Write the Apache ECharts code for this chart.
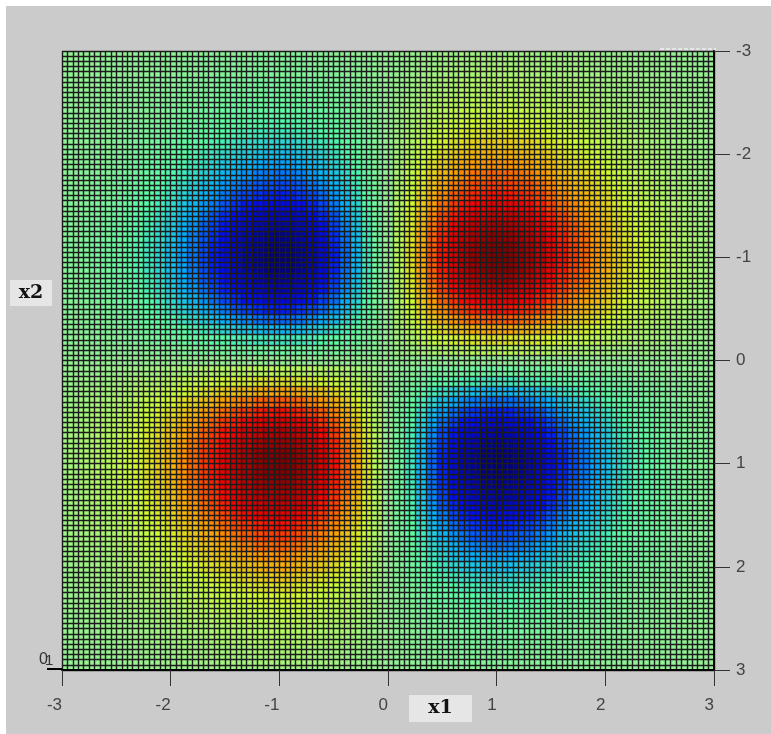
<!DOCTYPE html>
<html>
<head>
<meta charset="utf-8">
<style>
  html, body { margin: 0; padding: 0; background: #fff; }
  #chart { width: 771px; height: 734px; }
</style>
<script src="https://cdn.jsdelivr.net/npm/echarts@6/dist/echarts.min.js"></script>
</head>
<body>
<div id="chart"></div>
<script>
const tickValues = [-3, -2, -1, 0, 1, 2, 3];
const x1Cells = [-3,-2.9,-2.8,-2.7,-2.6,-2.5,-2.4,-2.3,-2.2,-2.1,-2,-1.9,-1.8,-1.7,-1.6,-1.5,-1.4,-1.3,-1.2,-1.1,-1,-0.9,-0.8,-0.7,-0.6,-0.5,-0.4,-0.3,-0.2,-0.1,0,0.1,0.2,0.3,0.4,0.5,0.6,0.7,0.8,0.9,1,1.1,1.2,1.3,1.4,1.5,1.6,1.7,1.8,1.9,2,2.1,2.2,2.3,2.4,2.5,2.6,2.7,2.8,2.9,3];
const x2Cells = x1Cells;
const cellStep = 0.1;
// colour level, -100 darkest blue, 100 darkest red. top row is x2 = -3
const zRows = [
[0,0,0,-1,-1,-1,-1,-1,-2,-2,-2,-3,-3,-3,-4,-4,-4,-5,-5,-5,-5,-5,-5,-5,-4,-4,-3,-2,-2,-1,0,1,2,2,3,4,4,5,5,5,5,5,5,5,4,4,4,3,3,3,2,2,2,1,1,1,1,1,0,0,0],
[0,0,-1,-1,-1,-1,-2,-2,-2,-3,-3,-4,-4,-5,-5,-6,-6,-6,-7,-7,-7,-7,-7,-6,-6,-5,-4,-3,-2,-1,0,1,2,3,4,5,6,6,7,7,7,7,7,6,6,6,5,5,4,4,3,3,2,2,2,1,1,1,1,0,0],
[0,-1,-1,-1,-1,-2,-2,-2,-3,-3,-4,-5,-5,-6,-7,-7,-8,-8,-9,-9,-9,-9,-9,-8,-7,-7,-5,-4,-3,-1,0,1,3,4,5,7,7,8,9,9,9,9,9,8,8,7,7,6,5,5,4,3,3,2,2,2,1,1,1,1,0],
[-1,-1,-1,-1,-2,-2,-3,-3,-4,-5,-5,-6,-7,-8,-9,-10,-10,-11,-12,-12,-12,-12,-11,-11,-10,-9,-7,-6,-4,-2,0,2,4,6,7,9,10,11,11,12,12,12,12,11,10,10,9,8,7,6,5,5,4,3,3,2,2,1,1,1,1],
[-1,-1,-1,-2,-2,-3,-3,-4,-4,-5,-6,-7,-8,-9,-10,-11,-12,-13,-13,-14,-14,-14,-13,-13,-11,-10,-9,-7,-4,-2,0,2,4,7,9,10,11,13,13,14,14,14,13,13,12,11,10,9,8,7,6,5,4,4,3,3,2,2,1,1,1],
[-1,-1,-2,-2,-3,-3,-4,-5,-6,-7,-8,-9,-11,-12,-13,-14,-16,-17,-17,-18,-18,-18,-17,-16,-15,-13,-11,-8,-6,-3,0,3,6,8,11,13,15,16,17,18,18,18,17,17,16,14,13,12,11,9,8,7,6,5,4,3,3,2,2,1,1],
[-1,-2,-2,-3,-3,-4,-5,-6,-7,-8,-10,-11,-13,-15,-16,-18,-19,-20,-21,-22,-22,-22,-21,-20,-18,-16,-13,-10,-7,-4,0,4,7,10,13,16,18,20,21,22,22,22,21,20,19,18,16,15,13,11,10,8,7,6,5,4,3,3,2,2,1],
[-1,-2,-2,-3,-4,-5,-6,-7,-9,-10,-12,-14,-16,-18,-20,-22,-23,-25,-26,-27,-27,-27,-26,-24,-22,-20,-16,-13,-9,-4,0,4,9,13,16,20,22,24,26,27,27,27,26,25,23,22,20,18,16,14,12,10,9,7,6,5,4,3,2,2,1],
[-2,-2,-3,-4,-4,-6,-7,-9,-10,-12,-14,-17,-19,-21,-23,-26,-28,-29,-31,-32,-32,-32,-30,-29,-26,-23,-20,-15,-10,-5,0,5,10,15,20,23,26,29,30,32,32,32,31,29,28,26,23,21,19,17,14,12,10,9,7,6,4,4,3,2,2],
[-2,-3,-3,-5,-5,-7,-8,-10,-12,-14,-17,-20,-22,-25,-28,-30,-33,-35,-36,-38,-38,-38,-36,-34,-31,-28,-23,-18,-12,-6,0,6,12,18,23,28,31,34,36,38,38,38,36,35,33,30,28,25,22,20,17,14,12,10,8,7,5,5,3,3,2],
[-2,-3,-4,-5,-6,-8,-10,-12,-14,-17,-20,-23,-27,-30,-33,-36,-39,-41,-43,-45,-45,-45,-43,-41,-37,-33,-27,-21,-14,-7,0,7,14,21,27,33,37,41,43,45,45,45,43,41,39,36,33,30,27,23,20,17,14,12,10,8,6,5,4,3,2],
[-3,-4,-5,-6,-7,-9,-11,-14,-17,-20,-23,-27,-31,-34,-38,-42,-45,-48,-50,-51,-52,-51,-49,-47,-43,-38,-32,-24,-17,-8,0,8,17,24,32,38,43,47,49,51,52,51,50,48,45,42,38,34,31,27,23,20,17,14,11,9,7,6,5,4,3],
[-3,-4,-5,-7,-8,-11,-13,-16,-19,-22,-27,-31,-35,-39,-43,-47,-51,-54,-57,-58,-59,-58,-56,-53,-48,-43,-36,-28,-19,-9,0,9,19,28,36,43,48,53,56,58,59,58,57,54,51,47,43,39,35,31,27,22,19,16,13,11,8,7,5,4,3],
[-3,-5,-6,-8,-9,-12,-15,-18,-21,-25,-30,-34,-39,-44,-48,-53,-57,-61,-63,-65,-66,-65,-63,-59,-54,-48,-40,-31,-21,-11,0,11,21,31,40,48,54,59,63,65,66,65,63,61,57,53,48,44,39,34,30,25,21,18,15,12,9,8,6,5,3],
[-4,-5,-7,-9,-10,-13,-16,-20,-23,-28,-33,-38,-43,-48,-53,-58,-64,-67,-70,-72,-73,-72,-69,-66,-60,-53,-45,-34,-23,-12,0,12,23,34,45,53,60,66,69,72,73,72,70,67,64,58,53,48,43,38,33,28,23,20,16,13,10,9,7,5,4],
[-4,-6,-7,-10,-11,-14,-18,-22,-26,-30,-36,-42,-47,-53,-58,-64,-70,-74,-77,-79,-80,-79,-76,-72,-66,-58,-49,-38,-26,-13,0,13,26,38,49,58,66,72,76,79,80,79,77,74,70,64,58,53,47,42,36,30,26,22,18,14,11,10,7,6,4],
[-4,-6,-8,-10,-12,-16,-19,-23,-28,-33,-39,-45,-51,-57,-64,-70,-76,-80,-84,-86,-87,-86,-83,-78,-71,-64,-53,-41,-28,-14,0,14,28,41,53,64,71,78,83,86,87,86,84,80,76,70,64,57,51,45,39,33,28,23,19,16,12,10,8,6,4],
[-5,-6,-8,-11,-13,-17,-20,-25,-29,-35,-41,-48,-54,-61,-67,-74,-80,-85,-88,-91,-92,-91,-87,-83,-75,-67,-56,-43,-29,-15,0,15,29,43,56,67,75,83,87,91,92,91,88,85,80,74,67,61,54,48,41,35,29,25,20,17,13,11,8,6,5],
[-5,-7,-9,-12,-13,-17,-21,-26,-31,-36,-43,-50,-57,-63,-70,-77,-84,-88,-92,-95,-96,-95,-91,-86,-79,-70,-59,-45,-31,-15,0,15,31,45,59,70,79,86,91,95,96,95,92,88,84,77,70,63,57,50,43,36,31,26,21,17,13,12,9,7,5],
[-5,-7,-9,-12,-14,-18,-22,-27,-32,-38,-45,-51,-58,-65,-72,-79,-86,-91,-95,-98,-99,-98,-94,-89,-81,-72,-60,-47,-32,-16,0,16,32,47,60,72,81,89,94,98,99,98,95,91,86,79,72,65,58,51,45,38,32,27,22,18,14,12,9,7,5],
[-5,-7,-9,-12,-14,-18,-22,-27,-32,-38,-45,-52,-59,-66,-73,-80,-87,-92,-96,-99,-100,-99,-95,-90,-82,-73,-61,-47,-32,-16,0,16,32,47,61,73,82,90,95,99,100,99,96,92,87,80,73,66,59,52,45,38,32,27,22,18,14,12,9,7,5],
[-5,-7,-9,-12,-14,-18,-22,-27,-32,-38,-45,-51,-58,-65,-72,-79,-86,-91,-95,-98,-99,-98,-94,-89,-81,-72,-60,-47,-32,-16,0,16,32,47,60,72,81,89,94,98,99,98,95,91,86,79,72,65,58,51,45,38,32,27,22,18,14,12,9,7,5],
[-5,-7,-9,-11,-13,-17,-21,-26,-30,-36,-43,-49,-56,-63,-69,-76,-83,-87,-91,-94,-95,-94,-90,-86,-78,-69,-58,-45,-30,-15,0,15,30,45,58,69,78,86,90,94,95,94,91,87,83,76,69,63,56,49,43,36,30,26,21,17,13,11,9,7,5],
[-5,-6,-8,-11,-13,-16,-20,-24,-29,-34,-41,-47,-53,-59,-66,-72,-78,-83,-86,-89,-90,-89,-86,-81,-74,-66,-55,-42,-29,-14,0,14,29,42,55,66,74,81,86,89,90,89,86,83,78,72,66,59,53,47,41,34,29,24,20,16,13,11,8,6,5],
[-4,-6,-7,-10,-11,-15,-18,-22,-26,-31,-37,-43,-48,-54,-60,-66,-71,-75,-79,-81,-82,-81,-78,-74,-67,-60,-50,-39,-26,-13,0,13,26,39,50,60,67,74,78,81,82,81,79,75,71,66,60,54,48,43,37,31,26,22,18,15,11,10,7,6,4],
[-4,-5,-7,-9,-10,-13,-16,-20,-23,-28,-33,-38,-43,-48,-53,-58,-64,-67,-70,-72,-73,-72,-69,-66,-60,-53,-45,-34,-23,-12,0,12,23,34,45,53,60,66,69,72,73,72,70,67,64,58,53,48,43,38,33,28,23,20,16,13,10,9,7,5,4],
[-3,-4,-5,-7,-9,-11,-13,-16,-20,-23,-27,-32,-36,-40,-45,-49,-53,-56,-59,-60,-61,-60,-58,-55,-50,-45,-37,-29,-20,-10,0,10,20,29,37,45,50,55,58,60,61,60,59,56,53,49,45,40,36,32,27,23,20,16,13,11,9,7,5,4,3],
[-2,-3,-4,-6,-7,-8,-10,-13,-15,-18,-21,-24,-28,-31,-34,-38,-41,-43,-45,-47,-47,-47,-45,-42,-39,-34,-29,-22,-15,-8,0,8,15,22,29,34,39,42,45,47,47,47,45,43,41,38,34,31,28,24,21,18,15,13,10,8,7,6,4,3,2],
[-2,-2,-3,-4,-4,-6,-7,-9,-10,-12,-14,-17,-19,-21,-23,-26,-28,-29,-31,-32,-32,-32,-30,-29,-26,-23,-20,-15,-10,-5,0,5,10,15,20,23,26,29,30,32,32,32,31,29,28,26,23,21,19,17,14,12,10,9,7,6,4,4,3,2,2],
[-1,-1,-1,-2,-2,-3,-4,-4,-5,-6,-7,-8,-9,-11,-12,-13,-14,-15,-15,-16,-16,-16,-15,-14,-13,-12,-10,-8,-5,-3,0,3,5,8,10,12,13,14,15,16,16,16,15,15,14,13,12,11,9,8,7,6,5,4,4,3,2,2,1,1,1],
[0,0,0,0,0,0,0,0,0,0,0,0,0,0,0,0,0,0,0,0,0,0,0,0,0,0,0,0,0,0,0,0,0,0,0,0,0,0,0,0,0,0,0,0,0,0,0,0,0,0,0,0,0,0,0,0,0,0,0,0,0],
[1,1,1,2,2,3,4,4,5,6,7,8,9,11,12,13,14,15,15,16,16,16,15,14,13,12,10,8,5,3,0,-3,-5,-8,-10,-12,-13,-14,-15,-16,-16,-16,-15,-15,-14,-13,-12,-11,-9,-8,-7,-6,-5,-4,-4,-3,-2,-2,-1,-1,-1],
[2,2,3,4,4,6,7,9,10,12,14,17,19,21,23,26,28,29,31,32,32,32,30,29,26,23,20,15,10,5,0,-5,-10,-15,-20,-23,-26,-29,-30,-32,-32,-32,-31,-29,-28,-26,-23,-21,-19,-17,-14,-12,-10,-9,-7,-6,-4,-4,-3,-2,-2],
[2,3,4,6,7,8,10,13,15,18,21,24,28,31,34,38,41,43,45,47,47,47,45,42,39,34,29,22,15,8,0,-8,-15,-22,-29,-34,-39,-42,-45,-47,-47,-47,-45,-43,-41,-38,-34,-31,-28,-24,-21,-18,-15,-13,-10,-8,-7,-6,-4,-3,-2],
[3,4,5,7,9,11,13,16,20,23,27,32,36,40,45,49,53,56,59,60,61,60,58,55,50,45,37,29,20,10,0,-10,-20,-29,-37,-45,-50,-55,-58,-60,-61,-60,-59,-56,-53,-49,-45,-40,-36,-32,-27,-23,-20,-16,-13,-11,-9,-7,-5,-4,-3],
[4,5,7,9,10,13,16,20,23,28,33,38,43,48,53,58,64,67,70,72,73,72,69,66,60,53,45,34,23,12,0,-12,-23,-34,-45,-53,-60,-66,-69,-72,-73,-72,-70,-67,-64,-58,-53,-48,-43,-38,-33,-28,-23,-20,-16,-13,-10,-9,-7,-5,-4],
[4,6,7,10,11,15,18,22,26,31,37,43,48,54,60,66,71,75,79,81,82,81,78,74,67,60,50,39,26,13,0,-13,-26,-39,-50,-60,-67,-74,-78,-81,-82,-81,-79,-75,-71,-66,-60,-54,-48,-43,-37,-31,-26,-22,-18,-15,-11,-10,-7,-6,-4],
[5,6,8,11,13,16,20,24,29,34,41,47,53,59,66,72,78,83,86,89,90,89,86,81,74,66,55,42,29,14,0,-14,-29,-42,-55,-66,-74,-81,-86,-89,-90,-89,-86,-83,-78,-72,-66,-59,-53,-47,-41,-34,-29,-24,-20,-16,-13,-11,-8,-6,-5],
[5,7,9,11,13,17,21,26,30,36,43,49,56,63,69,76,83,87,91,94,95,94,90,86,78,69,58,45,30,15,0,-15,-30,-45,-58,-69,-78,-86,-90,-94,-95,-94,-91,-87,-83,-76,-69,-63,-56,-49,-43,-36,-30,-26,-21,-17,-13,-11,-9,-7,-5],
[5,7,9,12,14,18,22,27,32,38,45,51,58,65,72,79,86,91,95,98,99,98,94,89,81,72,60,47,32,16,0,-16,-32,-47,-60,-72,-81,-89,-94,-98,-99,-98,-95,-91,-86,-79,-72,-65,-58,-51,-45,-38,-32,-27,-22,-18,-14,-12,-9,-7,-5],
[5,7,9,12,14,18,22,27,32,38,45,52,59,66,73,80,87,92,96,99,100,99,95,90,82,73,61,47,32,16,0,-16,-32,-47,-61,-73,-82,-90,-95,-99,-100,-99,-96,-92,-87,-80,-73,-66,-59,-52,-45,-38,-32,-27,-22,-18,-14,-12,-9,-7,-5],
[5,7,9,12,14,18,22,27,32,38,45,51,58,65,72,79,86,91,95,98,99,98,94,89,81,72,60,47,32,16,0,-16,-32,-47,-60,-72,-81,-89,-94,-98,-99,-98,-95,-91,-86,-79,-72,-65,-58,-51,-45,-38,-32,-27,-22,-18,-14,-12,-9,-7,-5],
[5,7,9,12,13,17,21,26,31,36,43,50,57,63,70,77,84,88,92,95,96,95,91,86,79,70,59,45,31,15,0,-15,-31,-45,-59,-70,-79,-86,-91,-95,-96,-95,-92,-88,-84,-77,-70,-63,-57,-50,-43,-36,-31,-26,-21,-17,-13,-12,-9,-7,-5],
[5,6,8,11,13,17,20,25,29,35,41,48,54,61,67,74,80,85,88,91,92,91,87,83,75,67,56,43,29,15,0,-15,-29,-43,-56,-67,-75,-83,-87,-91,-92,-91,-88,-85,-80,-74,-67,-61,-54,-48,-41,-35,-29,-25,-20,-17,-13,-11,-8,-6,-5],
[4,6,8,10,12,16,19,23,28,33,39,45,51,57,64,70,76,80,84,86,87,86,83,78,71,64,53,41,28,14,0,-14,-28,-41,-53,-64,-71,-78,-83,-86,-87,-86,-84,-80,-76,-70,-64,-57,-51,-45,-39,-33,-28,-23,-19,-16,-12,-10,-8,-6,-4],
[4,6,7,10,11,14,18,22,26,30,36,42,47,53,58,64,70,74,77,79,80,79,76,72,66,58,49,38,26,13,0,-13,-26,-38,-49,-58,-66,-72,-76,-79,-80,-79,-77,-74,-70,-64,-58,-53,-47,-42,-36,-30,-26,-22,-18,-14,-11,-10,-7,-6,-4],
[4,5,7,9,10,13,16,20,23,28,33,38,43,48,53,58,64,67,70,72,73,72,69,66,60,53,45,34,23,12,0,-12,-23,-34,-45,-53,-60,-66,-69,-72,-73,-72,-70,-67,-64,-58,-53,-48,-43,-38,-33,-28,-23,-20,-16,-13,-10,-9,-7,-5,-4],
[3,5,6,8,9,12,15,18,21,25,30,34,39,44,48,53,57,61,63,65,66,65,63,59,54,48,40,31,21,11,0,-11,-21,-31,-40,-48,-54,-59,-63,-65,-66,-65,-63,-61,-57,-53,-48,-44,-39,-34,-30,-25,-21,-18,-15,-12,-9,-8,-6,-5,-3],
[3,4,5,7,8,11,13,16,19,22,27,31,35,39,43,47,51,54,57,58,59,58,56,53,48,43,36,28,19,9,0,-9,-19,-28,-36,-43,-48,-53,-56,-58,-59,-58,-57,-54,-51,-47,-43,-39,-35,-31,-27,-22,-19,-16,-13,-11,-8,-7,-5,-4,-3],
[3,4,5,6,7,9,11,14,17,20,23,27,31,34,38,42,45,48,50,51,52,51,49,47,43,38,32,24,17,8,0,-8,-17,-24,-32,-38,-43,-47,-49,-51,-52,-51,-50,-48,-45,-42,-38,-34,-31,-27,-23,-20,-17,-14,-11,-9,-7,-6,-5,-4,-3],
[2,3,4,5,6,8,10,12,14,17,20,23,27,30,33,36,39,41,43,45,45,45,43,41,37,33,27,21,14,7,0,-7,-14,-21,-27,-33,-37,-41,-43,-45,-45,-45,-43,-41,-39,-36,-33,-30,-27,-23,-20,-17,-14,-12,-10,-8,-6,-5,-4,-3,-2],
[2,3,3,5,5,7,8,10,12,14,17,20,22,25,28,30,33,35,36,38,38,38,36,34,31,28,23,18,12,6,0,-6,-12,-18,-23,-28,-31,-34,-36,-38,-38,-38,-36,-35,-33,-30,-28,-25,-22,-20,-17,-14,-12,-10,-8,-7,-5,-5,-3,-3,-2],
[2,2,3,4,4,6,7,9,10,12,14,17,19,21,23,26,28,29,31,32,32,32,30,29,26,23,20,15,10,5,0,-5,-10,-15,-20,-23,-26,-29,-30,-32,-32,-32,-31,-29,-28,-26,-23,-21,-19,-17,-14,-12,-10,-9,-7,-6,-4,-4,-3,-2,-2],
[1,2,2,3,4,5,6,7,9,10,12,14,16,18,20,22,23,25,26,27,27,27,26,24,22,20,16,13,9,4,0,-4,-9,-13,-16,-20,-22,-24,-26,-27,-27,-27,-26,-25,-23,-22,-20,-18,-16,-14,-12,-10,-9,-7,-6,-5,-4,-3,-2,-2,-1],
[1,2,2,3,3,4,5,6,7,8,10,11,13,15,16,18,19,20,21,22,22,22,21,20,18,16,13,10,7,4,0,-4,-7,-10,-13,-16,-18,-20,-21,-22,-22,-22,-21,-20,-19,-18,-16,-15,-13,-11,-10,-8,-7,-6,-5,-4,-3,-3,-2,-2,-1],
[1,1,2,2,3,3,4,5,6,7,8,9,11,12,13,14,16,17,17,18,18,18,17,16,15,13,11,8,6,3,0,-3,-6,-8,-11,-13,-15,-16,-17,-18,-18,-18,-17,-17,-16,-14,-13,-12,-11,-9,-8,-7,-6,-5,-4,-3,-3,-2,-2,-1,-1],
[1,1,1,2,2,3,3,4,4,5,6,7,8,9,10,11,12,13,13,14,14,14,13,13,11,10,9,7,4,2,0,-2,-4,-7,-9,-10,-11,-13,-13,-14,-14,-14,-13,-13,-12,-11,-10,-9,-8,-7,-6,-5,-4,-4,-3,-3,-2,-2,-1,-1,-1],
[1,1,1,1,2,2,3,3,4,5,5,6,7,8,9,10,10,11,12,12,12,12,11,11,10,9,7,6,4,2,0,-2,-4,-6,-7,-9,-10,-11,-11,-12,-12,-12,-12,-11,-10,-10,-9,-8,-7,-6,-5,-5,-4,-3,-3,-2,-2,-1,-1,-1,-1],
[0,1,1,1,1,2,2,2,3,3,4,5,5,6,7,7,8,8,9,9,9,9,9,8,7,7,5,4,3,1,0,-1,-3,-4,-5,-7,-7,-8,-9,-9,-9,-9,-9,-8,-8,-7,-7,-6,-5,-5,-4,-3,-3,-2,-2,-2,-1,-1,-1,-1,0],
[0,0,1,1,1,1,2,2,2,3,3,4,4,5,5,6,6,6,7,7,7,7,7,6,6,5,4,3,2,1,0,-1,-2,-3,-4,-5,-6,-6,-7,-7,-7,-7,-7,-6,-6,-6,-5,-5,-4,-4,-3,-3,-2,-2,-2,-1,-1,-1,-1,0,0],
[0,0,0,1,1,1,1,1,2,2,2,3,3,3,4,4,4,5,5,5,5,5,5,5,4,4,3,2,2,1,0,-1,-2,-2,-3,-4,-4,-5,-5,-5,-5,-5,-5,-5,-4,-4,-4,-3,-3,-3,-2,-2,-2,-1,-1,-1,-1,-1,0,0,0]
];
// stops at levels -100, -75, -50, -25, 0, 25, 50, 75, 100, picked off the reference's bands
const levelColors = ['#00007f', '#000dff', '#00b0ff', '#56ffa8', '#96f096', '#d0ff30', '#ff9c00', '#ff0000', '#7f0000'];

const cells = [];
zRows.forEach(function (row, j) {
  row.forEach(function (v, i) {
    cells.push([x1Cells[i], x2Cells[j], v]);
  });
});

function renderCell(params, api) {
  const c = api.coord([api.value(0), api.value(1)]);
  const s = api.size([cellStep, cellStep]);
  return {
    type: 'rect',
    shape: { x: c[0] - s[0] / 2, y: c[1] - s[1] / 2, width: s[0] + 1, height: s[1] + 1 },
    style: { fill: api.visual('color') }
  };
}

const meshLine = { color: '#1c1c1c', width: 1.4, type: 'solid' };
const tickLabel = { color: '#444', fontFamily: 'Liberation Sans', fontSize: 17 };

function nameBox(x, y, w, h, text) {
  return [
    { type: 'rect', left: x, top: y, shape: { width: w, height: h }, style: { fill: '#e6e6e6' } },
    {
      type: 'text', x: x + w / 2, y: y + h / 2,
      style: { text: text, fill: '#111', align: 'center', verticalAlign: 'middle', font: 'bold 19px "DejaVu Serif"' }
    }
  ];
}

const chart = echarts.init(document.getElementById('chart'));
chart.setOption({
  animation: false,
  grid: { left: 62, top: 51, width: 652, height: 619 },
  visualMap: { show: false, dimension: 2, min: -100, max: 100, inRange: { color: levelColors } },
  xAxis: {
    type: 'value', min: tickValues[0], max: tickValues[6], interval: 1, z: 5,
    axisLine: { show: true, onZero: false, lineStyle: { color: '#000', width: 2 } },
    axisTick: { show: true, length: 16, lineStyle: { color: '#333', width: 1 } },
    axisLabel: Object.assign({ margin: 27, align: 'right' }, tickLabel),
    splitLine: { show: true, lineStyle: meshLine },
    minorTick: { show: false, splitNumber: 20 },
    minorSplitLine: { show: true, lineStyle: meshLine }
  },
  yAxis: {
    type: 'value', min: tickValues[0], max: tickValues[6], interval: 1, inverse: true, position: 'right', z: 5,
    axisLine: { show: true, onZero: false, lineStyle: { color: '#000', width: 2 } },
    axisTick: { show: true, length: 16, lineStyle: { color: '#333', width: 1 } },
    axisLabel: Object.assign({ margin: 22 }, tickLabel),
    splitLine: { show: true, lineStyle: meshLine },
    minorTick: { show: false, splitNumber: 20 },
    minorSplitLine: { show: true, lineStyle: meshLine }
  },
  series: [{
    type: 'custom',
    coordinateSystem: 'cartesian2d',
    renderItem: renderCell,
    encode: { x: 0, y: 1 },
    clip: true,
    progressive: 0,
    data: cells
  }],
  graphic: [
    { type: 'rect', z: -10, left: 6, top: 6, shape: { width: 765, height: 728 }, style: { fill: '#cbcbcb' } },
    { type: 'line', z: 10, shape: { x1: 47, y1: 669, x2: 62, y2: 669 }, style: { stroke: '#000', lineWidth: 2 } },
    { type: 'text', z: 10, left: 39, top: 652, style: { text: '0', fill: '#333', font: '16px "Liberation Sans"' } },
    { type: 'text', z: 10, left: 45, top: 653, style: { text: '1', fill: '#333', font: '15px "Liberation Sans"' } },
    { type: 'line', z: 10, shape: { x1: 660, y1: 49, x2: 716, y2: 49 }, style: { stroke: '#fff', lineWidth: 1, lineDash: [4, 2] } }
  ].concat(nameBox(10, 280, 42, 26, 'x2'), nameBox(409, 695, 63, 27, 'x1'))
});
</script>
</body>
</html>
